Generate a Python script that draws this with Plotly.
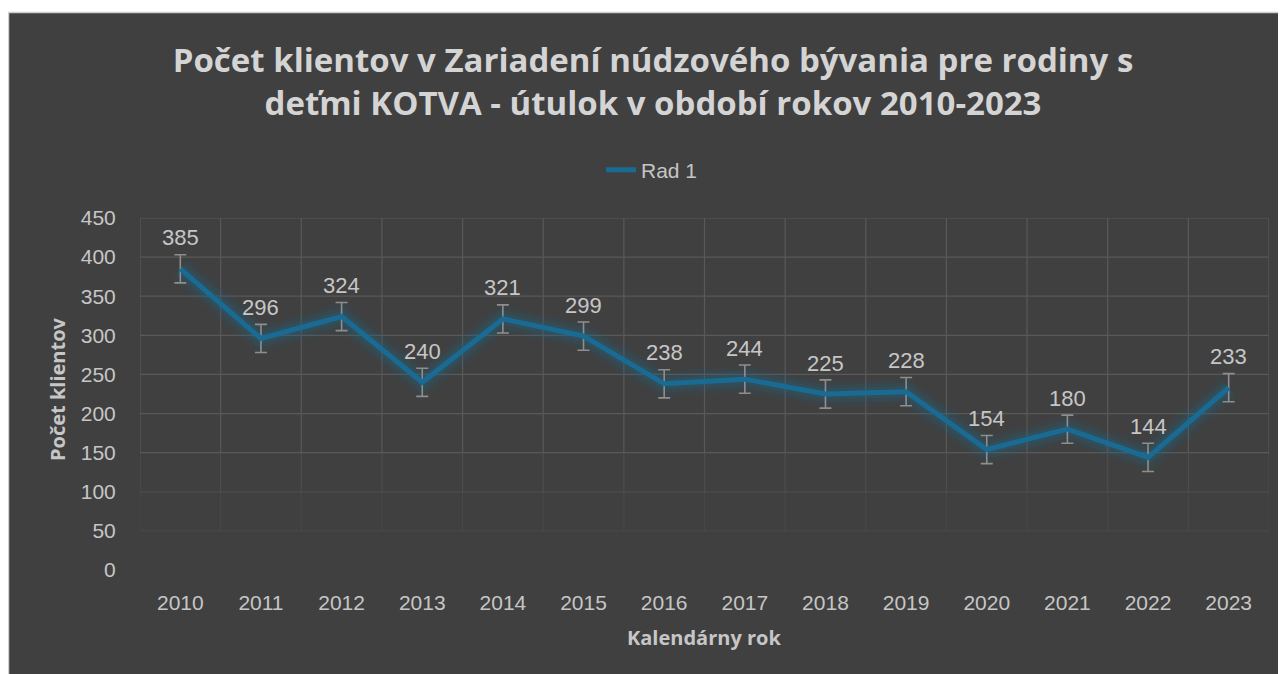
import plotly.graph_objects as go

years = [2010, 2011, 2012, 2013, 2014, 2015, 2016, 2017, 2018, 2019, 2020, 2021, 2022, 2023]
clients = [385, 296, 324, 240, 321, 299, 238, 244, 225, 228, 154, 180, 144, 233]
err = [18] * len(years)
y_ticks = [0, 50, 100, 150, 200, 250, 300, 350, 400, 450]

BG = "#404040"
LINE = "#1a6b94"
TXT = "#c6c6c6"
GRID = "#595959"

# page body has an 8px margin, so the figure is sized to fit the window
W, H = 1278, 666
L, R, T, B = 132, 17, 210, 104
pw, ph = W - L - R, H - T - B

def px_x(p):
    return (p - L) / pw

def px_y(p):
    return (H - B - p) / ph

fig = go.Figure()

# glow layers
for w, op in [(26, 0.08), (18, 0.12), (11, 0.18)]:
    fig.add_trace(go.Scatter(x=years, y=clients, mode="lines",
                             line=dict(color=LINE, width=w), opacity=op,
                             showlegend=False, hoverinfo="skip"))

fig.add_trace(go.Scatter(
    x=years, y=clients, mode="lines", name="Rad 1",
    line=dict(color=LINE, width=5),
    error_y=dict(type="data", array=err, visible=True, color="#8e8e8e",
                 thickness=1.6, width=6),
))

shapes = []
# white strip on top with light border line
shapes.append(dict(type="rect", xref="paper", yref="paper",
                   x0=px_x(-5), x1=px_x(W + 5), y0=px_y(4.5), y1=px_y(-5),
                   fillcolor="white", line=dict(width=0), layer="below"))
shapes.append(dict(type="line", xref="paper", yref="paper",
                   x0=px_x(0), x1=px_x(W + 5), y0=px_y(4.5), y1=px_y(4.5),
                   line=dict(color="#cfcfcf", width=1.5), layer="below"))
shapes.append(dict(type="line", xref="paper", yref="paper",
                   x0=px_x(0.5), x1=px_x(0.5), y0=px_y(4.5), y1=px_y(H + 5),
                   line=dict(color="#cfcfcf", width=1.5), layer="below"))

# grid (fading toward bottom)
top = y_ticks[-1]
for v in y_ticks[1:]:
    op = 1.0 if v >= 150 else (0.55 if v == 100 else 0.3)
    shapes.append(dict(type="line", xref="x", yref="y", x0=years[0] - 0.5, x1=years[-1] + 0.5,
                       y0=v, y1=v, line=dict(color=GRID, width=1.2), opacity=op, layer="below"))
for i in range(len(years) + 1):
    xv = years[0] - 0.5 + i
    shapes.append(dict(type="line", xref="x", yref="y", x0=xv, x1=xv, y0=150, y1=top,
                       line=dict(color=GRID, width=1.2), layer="below"))
    shapes.append(dict(type="line", xref="x", yref="y", x0=xv, x1=xv, y0=100, y1=150,
                       line=dict(color=GRID, width=1.2), opacity=0.55, layer="below"))
    shapes.append(dict(type="line", xref="x", yref="y", x0=xv, x1=xv, y0=50, y1=100,
                       line=dict(color=GRID, width=1.2), opacity=0.3, layer="below"))

annotations = []
for x, y in zip(years, clients):
    annotations.append(dict(x=x, y=y, xref="x", yref="y", text=str(y), showarrow=False,
                            yshift=31, font=dict(family="Liberation Sans, Arial", size=22, color=TXT)))

annotations.append(dict(text="<b>Kalendárny rok</b>", xref="paper", yref="paper",
                        x=px_x(696), y=px_y(629), xanchor="center", yanchor="middle",
                        showarrow=False,
                        font=dict(family="Open Sans, Arial", size=20, color=TXT)))
annotations.append(dict(text="<b>Počet klientov</b>", xref="paper", yref="paper",
                        x=px_x(49), y=px_y(381), xanchor="center", yanchor="middle",
                        showarrow=False, textangle=-90,
                        font=dict(family="Open Sans, Arial", size=20, color=TXT)))

fig.update_layout(
    width=W, height=H,
    margin=dict(l=L, r=R, t=T, b=B),
    paper_bgcolor=BG, plot_bgcolor=BG,
    title=dict(text="<b>Počet klientov v Zariadení núdzového bývania pre rodiny s<br>deťmi KOTVA - útulok v období rokov 2010-2023</b>",
               x=645 / W, xanchor="center", xref="container",
               y=1 - 64 / H, yanchor="middle", yref="container",
               font=dict(family="Open Sans, Arial", size=33, color="#d4d4d4")),
    legend=dict(orientation="h", x=px_x(644), xanchor="center", y=px_y(162), yanchor="middle",
                font=dict(family="Liberation Sans, Arial", size=21, color=TXT),
                bgcolor="rgba(0,0,0,0)"),
    xaxis=dict(range=[years[0] - 0.5, years[-1] + 0.5], tickmode="array", tickvals=years,
               ticktext=[str(y) for y in years], showgrid=False, zeroline=False,
               showline=False, ticks="outside", ticklen=14, tickcolor=BG,
               tickfont=dict(family="Liberation Sans, Arial", size=21, color=TXT)),
    yaxis=dict(range=[0, 450], tickmode="array", tickvals=y_ticks, showgrid=False,
               zeroline=False, showline=False, ticks="outside", ticklen=19, tickcolor=BG,
               tickfont=dict(family="Liberation Sans, Arial", size=21, color=TXT)),
    shapes=shapes, annotations=annotations,
)

fig.write_html("out.html")
